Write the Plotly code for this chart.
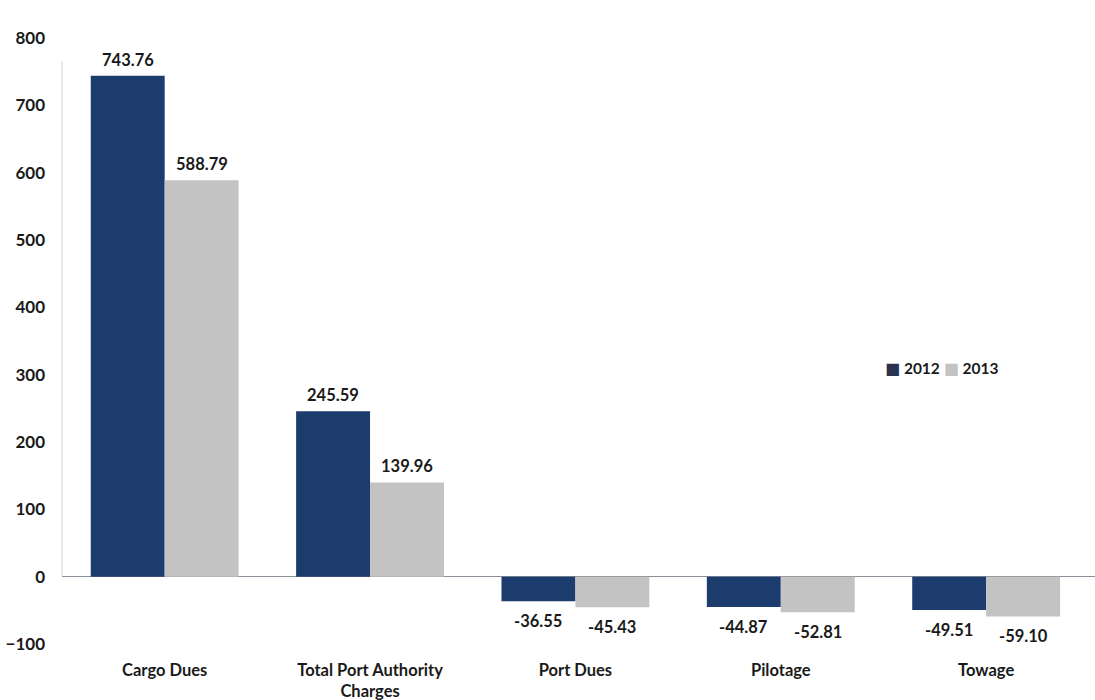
import plotly.graph_objects as go

categories = ["Cargo Dues", "Total Port Authority<br>Charges", "Port Dues", "Pilotage", "Towage"]
values_2012 = [743.76, 245.59, -36.55, -44.87, -49.51]
values_2013 = [588.79, 139.96, -45.43, -52.81, -59.10]
series_names = ["2012", "2013"]
tick_vals = [-100, 0, 100, 200, 300, 400, 500, 600, 700, 800]

FONT = "Lato"
TXT = dict(family=FONT, size=16.5, color="#1a1a1a", weight="bold")
TICK = dict(family=FONT, size=17, color="#1a1a1a", weight="bold")
COL_2012 = "#1d3c6e"
COL_2013 = "#c3c3c3"
BARGAP = 0.28
fig = go.Figure()
fig.add_trace(go.Bar(
    name=series_names[0], x=list(range(len(categories))), y=values_2012,
    marker=dict(color=COL_2012, line=dict(width=0)),
))
fig.add_trace(go.Bar(
    name=series_names[1], x=list(range(len(categories))), y=values_2013,
    marker=dict(color=COL_2013, line=dict(width=0)),
))

# data labels, placed at each bar's value with a pixel offset
half = (1 - BARGAP) / 4
for vals, off in ((values_2012, -half), (values_2013, half)):
    for i, v in enumerate(vals):
        fig.add_annotation(x=i + off, y=v, xref="x", yref="y", text=f"{v:.2f}",
                           showarrow=False, font=TXT,
                           yshift=16 if v >= 0 else -20)

# compact legend (Excel style) as rich text
sq = "<span style='font-family:DejaVu Sans;font-size:16px;color:{c}'>■</span>"
legend_text = (sq.format(c="#2a3250") + " " + series_names[0] + " "
               + sq.format(c=COL_2013) + " " + series_names[1])
fig.add_annotation(x=0.7948, y=0.455, xref="paper", yref="paper", xanchor="left",
                   yanchor="middle", text=legend_text, showarrow=False,
                   font=dict(family=FONT, size=15.5, color="#1a1a1a", weight="bold"))

fig.update_layout(
    width=1095, height=700,
    margin=dict(l=62, r=0, t=38, b=56),
    paper_bgcolor="white", plot_bgcolor="white",
    barmode="group", bargap=BARGAP, bargroupgap=0,
    font=TXT,
    showlegend=False,
    xaxis=dict(range=[-0.5, 4.53], showgrid=False, showline=False, zeroline=False,
               tickmode="array", tickvals=list(range(len(categories))), ticktext=categories,
               tickfont=TXT, ticks="", ticklabelstandoff=14),
    yaxis=dict(range=[-100, 800], tickvals=tick_vals, showgrid=False, showline=False,
               zeroline=True, zerolinecolor="#8a8f99", zerolinewidth=1,
               tickfont=TICK, ticks="", ticklabelstandoff=16),
)
fig.add_shape(type="line", xref="paper", yref="y", x0=0, x1=0, y0=0, y1=765,
              line=dict(color="#d0d4da", width=1))
fig.write_html("out.html")
